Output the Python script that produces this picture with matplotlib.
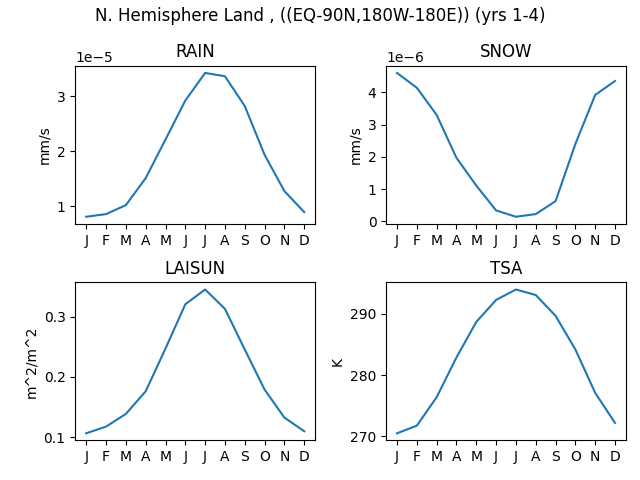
import matplotlib
matplotlib.use("Agg")
import matplotlib.pyplot as plt

months = ["J", "F", "M", "A", "M", "J", "J", "A", "S", "O", "N", "D"]
rain = [0.813e-5, 0.861e-5, 1.024e-5, 1.513e-5, 2.213e-5, 2.92e-5, 3.42e-5, 3.36e-5, 2.82e-5, 1.935e-5, 1.278e-5, 0.897e-5]
snow = [4.60e-6, 4.14e-6, 3.30e-6, 1.97e-6, 1.11e-6, 0.34e-6, 0.144e-6, 0.226e-6, 0.627e-6, 2.40e-6, 3.92e-6, 4.35e-6]
laisun = [0.1066, 0.1177, 0.1387, 0.1762, 0.247, 0.3204, 0.3448, 0.3127, 0.2453, 0.179, 0.1326, 0.110]
tsa = [270.5, 271.75, 276.4, 282.9, 288.7, 292.3, 294.0, 293.1, 289.7, 284.2, 277.1, 272.2]

panels = [("RAIN", rain, "mm/s"), ("SNOW", snow, "mm/s"),
          ("LAISUN", laisun, "m^2/m^2"), ("TSA", tsa, "K")]

fig, axes = plt.subplots(2, 2, figsize=(6.4, 4.8), dpi=100)
x = list(range(len(months)))
for ax, (title, vals, unit) in zip(axes.flat, panels):
    ax.plot(x, vals)
    ax.set_title(title)
    ax.set_ylabel(unit)
    ax.set_xticks(x)
    ax.set_xticklabels(months)
fig.suptitle("N. Hemisphere Land , ((EQ-90N,180W-180E)) (yrs 1-4)", y=0.985)
fig.subplots_adjust(left=0.1177, right=0.978, top=0.863, bottom=0.0823,
                    wspace=0.296, hspace=0.369)
fig.savefig("out.png")
